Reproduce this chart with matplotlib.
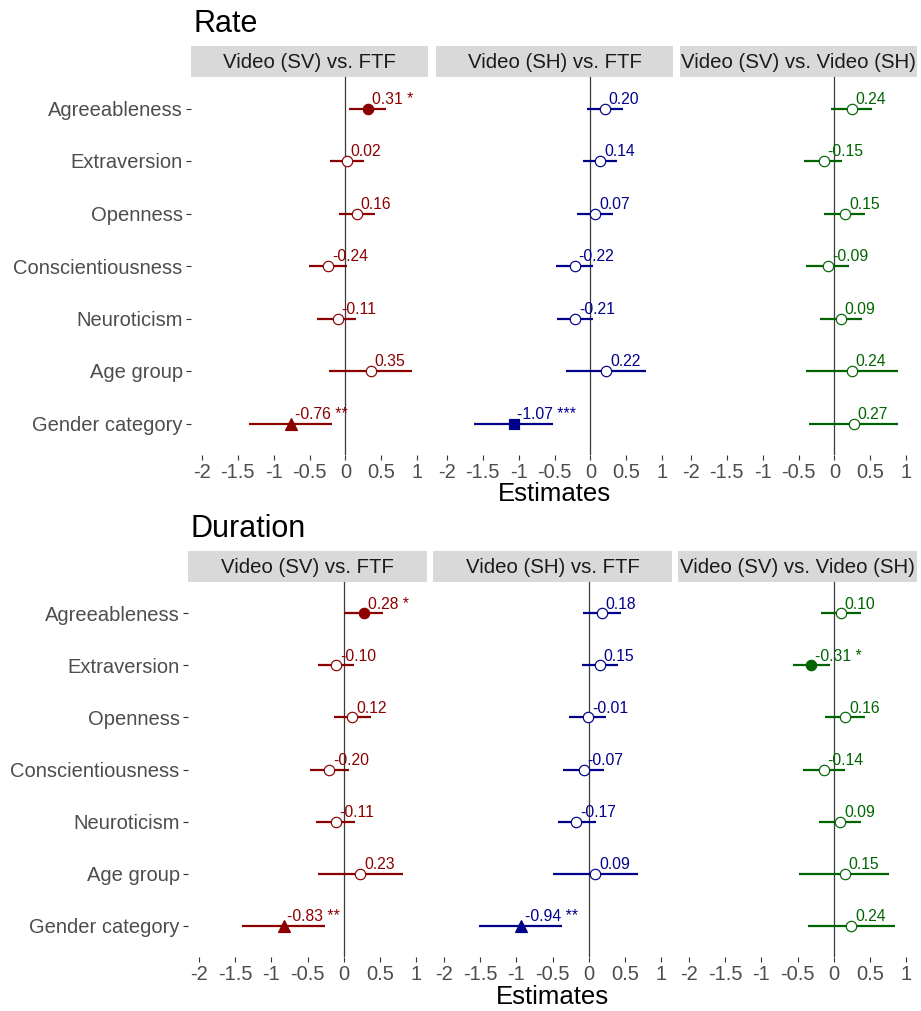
import matplotlib
matplotlib.use('Agg')
import matplotlib.pyplot as plt

plt.rcParams['font.family'] = ['Liberation Sans', 'DejaVu Sans']

W, H = 921, 1011

predictors = ["Agreeableness", "Extraversion", "Openness", "Conscientiousness",
              "Neuroticism", "Age group", "Gender category"]
contrasts = ["Video (SV) vs. FTF", "Video (SH) vs. FTF", "Video (SV) vs. Video (SH)"]
contrast_colors = ["#8B0000", "#00008B", "#006400"]

x_ticks = [-2, -1.5, -1, -0.5, 0, 0.5, 1]
x_ticklabels = ["-2", "-1.5", "-1", "-0.5", "0", "0.5", "1"]

# Rate model: estimate, lower / upper 95% CI, significance stars (one row per contrast)
rate_est = [
    [0.31, 0.02, 0.16, -0.24, -0.11, 0.35, -0.76],
    [0.20, 0.14, 0.07, -0.22, -0.21, 0.22, -1.07],
    [0.24, -0.15, 0.15, -0.09, 0.09, 0.24, 0.27],
]
rate_lo = [
    [0.05, -0.21, -0.09, -0.51, -0.39, -0.23, -1.34],
    [-0.05, -0.10, -0.18, -0.48, -0.46, -0.34, -1.62],
    [-0.05, -0.42, -0.14, -0.39, -0.20, -0.39, -0.36],
]
rate_hi = [
    [0.57, 0.26, 0.41, 0.02, 0.15, 0.93, -0.19],
    [0.45, 0.37, 0.31, 0.03, 0.04, 0.78, -0.52],
    [0.53, 0.11, 0.43, 0.21, 0.39, 0.88, 0.89],
]
rate_stars = [
    ["*", "", "", "", "", "", "**"],
    ["", "", "", "", "", "", "***"],
    ["", "", "", "", "", "", ""],
]

# Duration model
dur_est = [
    [0.28, -0.10, 0.12, -0.20, -0.11, 0.23, -0.83],
    [0.18, 0.15, -0.01, -0.07, -0.17, 0.09, -0.94],
    [0.10, -0.31, 0.16, -0.14, 0.09, 0.15, 0.24],
]
dur_lo = [
    [0.00, -0.35, -0.13, -0.47, -0.38, -0.36, -1.40],
    [-0.08, -0.09, -0.27, -0.35, -0.43, -0.49, -1.52],
    [-0.18, -0.56, -0.12, -0.43, -0.20, -0.48, -0.36],
]
dur_hi = [
    [0.54, 0.14, 0.37, 0.07, 0.16, 0.82, -0.26],
    [0.44, 0.40, 0.24, 0.21, 0.10, 0.68, -0.37],
    [0.37, -0.05, 0.43, 0.16, 0.37, 0.77, 0.85],
]
dur_stars = [
    ["*", "", "", "", "", "", "**"],
    ["", "", "", "", "", "", "**"],
    ["", "*", "", "", "", "", ""],
]

# marker by significance level
star_marker = {"": ("o", 7.5, False), "*": ("o", 7.5, True),
               "**": ("^", 8.5, True), "***": ("s", 7.0, True)}


def px_rect(x0, y0, w, h):
    return [x0 / W, 1 - (y0 + h) / H, w / W, h / H]


def draw_section(fig, title, est, lo, hi, stars, strip_top, panel_top, panel_bot,
                 lefts, width, title_base, xlabel_y):
    fig.text(lefts[0] / W + 2 / W, 1 - title_base / H, title, fontsize=22,
             va='baseline', ha='left', color='black')
    rows = list(range(1, len(predictors) + 1))
    for k, left in enumerate(lefts):
        color = contrast_colors[k]
        # facet strip
        sax = fig.add_axes(px_rect(left, strip_top, width, panel_top - strip_top))
        sax.set_facecolor('#D9D9D9')
        sax.set_xticks([])
        sax.set_yticks([])
        for sp in sax.spines.values():
            sp.set_visible(False)
        sax.text(0.5, 0.48, contrasts[k], transform=sax.transAxes, ha='center',
                 va='center', fontsize=14.7, color='#1A1A1A')

        ax = fig.add_axes(px_rect(left, panel_top, width, panel_bot - panel_top))
        for sp in ax.spines.values():
            sp.set_visible(False)
        ax.axvline(0, color='#3A3A3A', lw=0.9, zorder=1)
        for i, r in enumerate(rows):
            e, l, h, s = est[k][i], lo[k][i], hi[k][i], stars[k][i]
            ax.plot([l, h], [r, r], color=color, lw=1.6, solid_capstyle='butt', zorder=2)
            m, ms, filled = star_marker[s]
            ax.plot([e], [r], marker=m, ms=ms, mec=color, mew=0.85,
                    mfc=color if filled else 'white', zorder=3, linestyle='none')
            label = f"{e:.2f}" + (f" {s}" if s else "")
            ax.annotate(label, (e, r), xytext=(2.8, 3.4), textcoords='offset points',
                        ha='left', va='baseline', fontsize=11.3, color=color, zorder=4)
        ax.set_xlim(-2.15, 1.15)
        ax.set_ylim(len(rows) + 0.6, 0.4)
        ax.set_xticks(x_ticks)
        ax.set_xticklabels(x_ticklabels)
        ax.set_yticks(rows)
        if k == 0:
            ax.set_yticklabels(predictors)
        else:
            ax.set_yticklabels([])
        ax.tick_params(axis='both', labelsize=14.5, labelcolor='#4D4D4D',
                       color='#333333', width=0.8, length=3.5, pad=2.5)
        if k != 0:
            ax.tick_params(axis='y', length=0)
        ax.set_facecolor('white')
    mid = (lefts[0] + lefts[-1] + width) / 2
    fig.text(mid / W, 1 - xlabel_y / H, "Estimates", fontsize=18.5, ha='center',
             va='center', color='black')


fig = plt.figure(figsize=(W / 100, H / 100), dpi=100)
fig.patch.set_facecolor('white')

draw_section(fig, "Rate", rate_est, rate_lo, rate_hi, rate_stars,
             strip_top=46, panel_top=77, panel_bot=455,
             lefts=[191, 436, 680], width=237, title_base=32, xlabel_y=494)
draw_section(fig, "Duration", dur_est, dur_lo, dur_hi, dur_stars,
             strip_top=551, panel_top=582, panel_bot=957,
             lefts=[188, 433, 678], width=239, title_base=537, xlabel_y=997)

fig.savefig("out.png", dpi=100, facecolor='white')
plt.close(fig)
